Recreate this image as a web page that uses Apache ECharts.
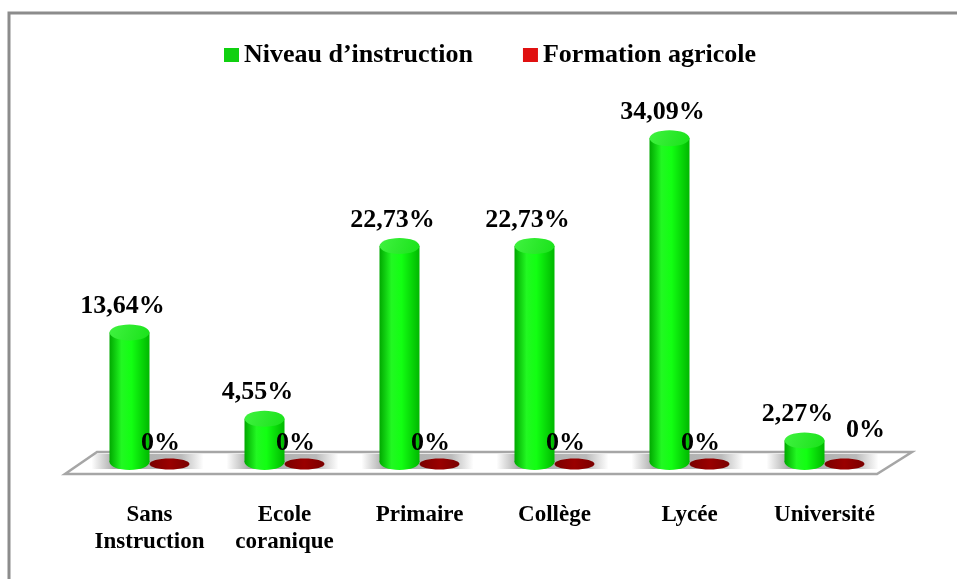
<!DOCTYPE html>
<html>
<head>
<meta charset="utf-8">
<script src="https://cdn.jsdelivr.net/npm/echarts@6/dist/echarts.min.js"></script>
<style>
  html, body { margin: 0; padding: 0; background: #fff; }
  #main { width: 957px; height: 579px; }
</style>
</head>
<body>
<div id="main"></div>
<script>
var categories = ['Sans\nInstruction', 'Ecole\ncoranique', 'Primaire', 'Collège', 'Lycée', 'Université'];
var niveau = [13.64, 4.55, 22.73, 22.73, 34.09, 2.27];
var formation = [0, 0, 0, 0, 0, 0];
var seriesNames = ['Niveau d\u2019instruction', 'Formation agricole'];

var serif = '"Liberation Serif", "Times New Roman", serif';

function fmt(v) {
    if (v === 0) return '0%';
    return v.toFixed(2).replace('.', ',') + '%';
}

// floor of the chart (plane at y = 0) with grey shading behind each pair
function renderFloor(params, api) {
    var cs = params.coordSys;
    var b = api.coord([0, 0])[1];
    var children = [{
        type: 'polygon',
        shape: { points: [
            [cs.x + 15, b - 10], [cs.x + cs.width + 20, b - 10],
            [cs.x + cs.width - 15, b + 12], [cs.x - 17, b + 12]
        ] },
        style: { fill: '#fff', stroke: '#a6a6a6', lineWidth: 2.5 }
    }];
    for (var i = 0; i < categories.length; i++) {
        var c = api.coord([i, 0])[0];
        children.push({
            type: 'rect',
            shape: { x: c - 58, y: b - 8, width: 112, height: 15 },
            style: {
                fill: new echarts.graphic.LinearGradient(0, 0, 1, 0, [
                    { offset: 0, color: 'rgba(140,140,140,0)' },
                    { offset: 0.2, color: 'rgba(140,140,140,0.75)' },
                    { offset: 0.8, color: 'rgba(140,140,140,0.6)' },
                    { offset: 1, color: 'rgba(140,140,140,0)' }
                ])
            }
        });
    }
    return { type: 'group', children: children };
}

function renderCylinder(params, api) {
    var i = api.value(0);
    var v = api.value(1);
    var base = api.coord([i, 0]);
    var top = api.coord([i, v]);
    var cx = base[0] - 20, rx = 20, ry = 8;
    var side = new echarts.graphic.LinearGradient(0, 0, 1, 0, [
        { offset: 0, color: '#00a800' },
        { offset: 0.3, color: '#22f822' },
        { offset: 0.55, color: '#12ff12' },
        { offset: 1, color: '#00b800' }
    ]);
    return {
        type: 'group',
        children: [
            { type: 'ellipse', shape: { cx: cx, cy: base[1], rx: rx, ry: ry }, style: { fill: side } },
            { type: 'rect', shape: { x: cx - rx, y: top[1], width: 2 * rx, height: base[1] - top[1] }, style: { fill: side } },
            { type: 'ellipse', shape: { cx: cx, cy: top[1], rx: rx, ry: ry },
              style: { fill: new echarts.graphic.LinearGradient(0, 0, 1, 1, [
                  { offset: 0, color: '#40f240' }, { offset: 1, color: '#1ae21a' }
              ]) } },
            { type: 'text', style: {
                text: fmt(v), x: cx - 7, y: top[1] - ry - 18,
                align: 'center', verticalAlign: 'middle',
                font: 'bold 26px ' + serif, fill: '#000'
            } }
        ]
    };
}

function renderDisc(params, api) {
    var i = api.value(0);
    var v = api.value(1);
    var base = api.coord([i, v]);
    var cx = base[0] + 20;
    var last = i === categories.length - 1;
    return {
        type: 'group',
        children: [
            { type: 'ellipse', shape: { cx: cx, cy: base[1] + 2, rx: 20, ry: 5.5 },
              style: { fill: new echarts.graphic.LinearGradient(0, 0, 1, 0, [
                  { offset: 0, color: '#7a0000' }, { offset: 0.5, color: '#9a0000' }, { offset: 1, color: '#7a0000' }
              ]) } },
            { type: 'text', style: {
                text: fmt(v), x: last ? cx + 21 : cx - 9, y: base[1] - (last ? 32 : 19),
                align: 'center', verticalAlign: 'middle',
                font: 'bold 26px ' + serif, fill: '#000'
            } }
        ]
    };
}

var option = {
    animation: false,
    backgroundColor: '#fff',
    graphic: [{
        type: 'rect',
        shape: { x: 9, y: 13, width: 1000, height: 700 },
        style: { fill: 'none', stroke: '#8c8c8c', lineWidth: 3 },
        z: 100
    }],
    legend: {
        data: seriesNames,
        top: 37,
        left: 219,
        itemWidth: 15,
        itemHeight: 14,
        itemGap: 50,
        icon: 'rect',
        textStyle: { fontFamily: serif, fontWeight: 'bold', fontSize: 26, color: '#000' }
    },
    grid: { left: 82, right: 65, top: 82, bottom: 117 },
    xAxis: {
        type: 'category',
        data: categories,
        axisLine: { show: false },
        axisTick: { show: false },
        axisLabel: {
            interval: 0,
            margin: 40,
            fontFamily: serif, fontWeight: 'bold', fontSize: 23, lineHeight: 27, color: '#000'
        }
    },
    yAxis: { type: 'value', min: 0, max: 40, show: false, splitLine: { show: false } },
    series: [
        {
            name: 'floor', type: 'custom', renderItem: renderFloor,
            data: [[0, 0]], silent: true, clip: false, z: 1
        },
        {
            name: seriesNames[0], type: 'custom', renderItem: renderCylinder,
            itemStyle: { color: '#10d010' },
            data: niveau.map(function (v, i) { return [i, v]; }),
            clip: false, z: 2
        },
        {
            name: seriesNames[1], type: 'custom', renderItem: renderDisc,
            itemStyle: { color: '#e01010' },
            data: formation.map(function (v, i) { return [i, v]; }),
            clip: false, z: 3
        }
    ]
};

var chart = echarts.init(document.getElementById('main'));
chart.setOption(option);
</script>
</body>
</html>
